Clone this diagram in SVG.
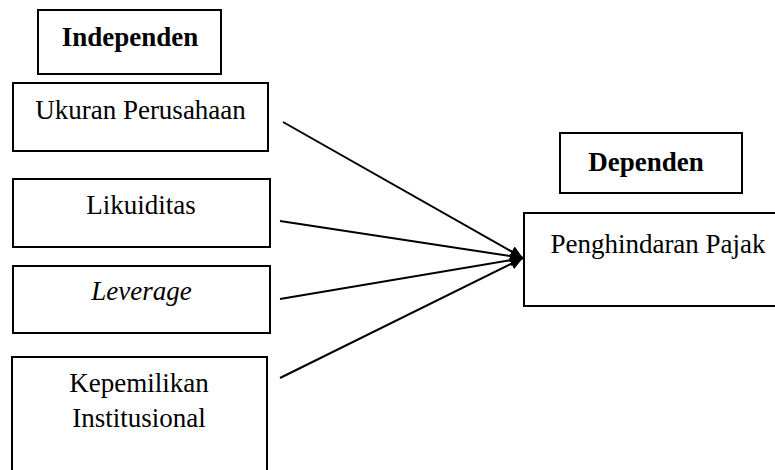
<svg xmlns="http://www.w3.org/2000/svg" width="775" height="470" viewBox="0 0 775 470">
<style>
.n{fill:#fff;stroke:#000;stroke-width:2}
text{font-family:"Liberation Serif","Times New Roman",serif;font-size:27px;fill:#000;text-anchor:middle}
.b{font-weight:bold}
.i{font-style:italic}
.c{stroke:#000;stroke-width:2;fill:none}
</style>
<defs>
<marker id="ah" viewBox="0 0 13 12" refX="13" refY="6" markerWidth="13" markerHeight="12" markerUnits="userSpaceOnUse" orient="auto">
<path d="M0,0 L13,6 L0,12 Z" fill="#000"/>
</marker>
</defs>
<rect width="775" height="470" fill="#fff"/>
<g id="independen"><rect class="n" x="38" y="10" width="183" height="64"/><text class="b" x="130" y="46">Independen</text></g>
<g id="ukuran"><rect class="n" x="13" y="83" width="255" height="68"/><text x="140.5" y="119">Ukuran Perusahaan</text></g>
<g id="likuiditas"><rect class="n" x="13" y="179" width="257" height="68"/><text x="141" y="214">Likuiditas</text></g>
<g id="leverage"><rect class="n" x="13" y="266" width="257" height="67"/><text class="i" x="141.5" y="300">Leverage</text></g>
<g id="kepemilikan"><rect class="n" x="12" y="357" width="255" height="120"/><text x="139" y="392">Kepemilikan</text><text x="139" y="427">Institusional</text></g>
<g id="dependen"><rect class="n" x="560" y="133" width="182" height="60"/><text class="b" x="646" y="171">Dependen</text></g>
<g id="penghindaran"><rect class="n" x="524" y="213" width="268" height="93"/><text x="658" y="253">Penghindaran Pajak</text></g>
<g id="connectors">
<line class="c" x1="283" y1="122" x2="523" y2="258" marker-end="url(#ah)"/>
<line class="c" x1="280" y1="221" x2="523" y2="258" marker-end="url(#ah)"/>
<line class="c" x1="280" y1="299" x2="523" y2="258" marker-end="url(#ah)"/>
<line class="c" x1="280" y1="378" x2="523" y2="258" marker-end="url(#ah)"/>
</g>
</svg>
